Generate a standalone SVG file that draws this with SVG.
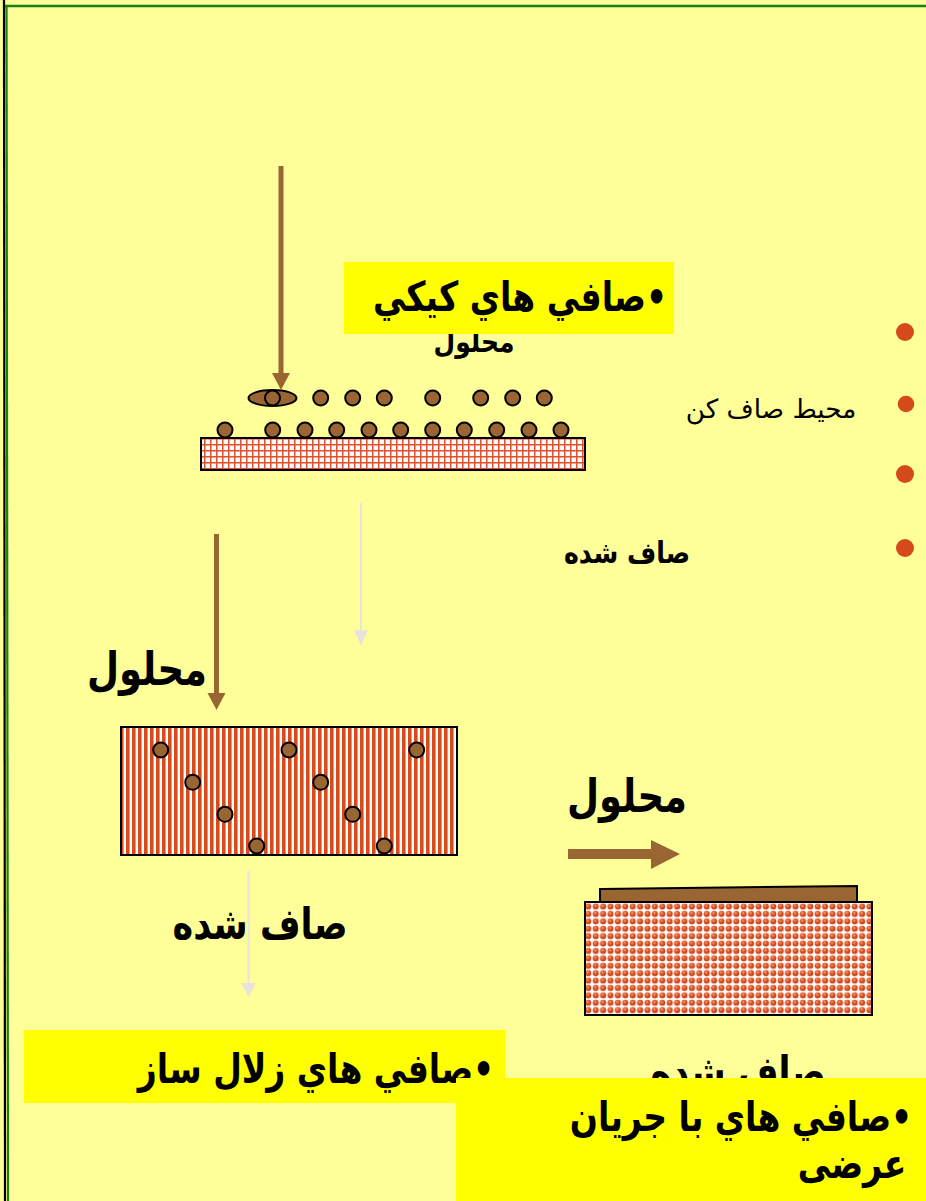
<svg xmlns="http://www.w3.org/2000/svg" width="926" height="1201" viewBox="0 0 926 1201">
  <style>
    .lbl { font-family: "DejaVu Sans", "Liberation Sans", sans-serif; font-weight: bold; fill: #000; direction: rtl; unicode-bidi: embed; text-anchor: middle; }
    .reg { font-family: "DejaVu Sans", "Liberation Sans", sans-serif; font-weight: normal; fill: #000; direction: rtl; unicode-bidi: embed; text-anchor: middle; }
    .p { fill: #996633; stroke: #000; stroke-width: 2; }
    .dot { fill: #D44A1A; }
    .hi { fill: #FFFF00; }
    .frame { stroke: #000; stroke-width: 2; }
  </style>
  <defs>
    <pattern id="grid" width="6" height="6" patternUnits="userSpaceOnUse">
      <rect width="6" height="6" fill="#fff"/>
      <path d="M0 0.75H6M0.75 0V6" stroke="#E0502A" stroke-width="1.5"/>
    </pattern>
    <pattern id="stripes" width="6" height="6" patternUnits="userSpaceOnUse">
      <rect width="6" height="6" fill="#fff"/>
      <rect width="3.6" height="6" fill="#D84B1B"/>
    </pattern>
    <radialGradient id="bead" cx="0.4" cy="0.35" r="0.7">
      <stop offset="0" stop-color="#F4A07A"/>
      <stop offset="0.45" stop-color="#DD5224"/>
      <stop offset="1" stop-color="#C23F12"/>
    </radialGradient>
    <pattern id="beads" width="7.4" height="7.4" patternUnits="userSpaceOnUse">
      <rect width="7.4" height="7.4" fill="#fff"/>
      <circle cx="3.7" cy="3.7" r="3.1" fill="url(#bead)"/>
    </pattern>
  </defs>

  <!-- page background and frame -->
  <rect width="926" height="1201" fill="#FFFF99"/>
  <line x1="4" y1="0" x2="5" y2="1201" stroke="#000" stroke-width="2.2"/>
  <line x1="6.5" y1="5" x2="8" y2="1201" stroke="#1A8010" stroke-width="2.2"/>
  <line x1="5" y1="6" x2="926" y2="6" stroke="#1A8010" stroke-width="2.5"/>

  <!-- right-hand bullets -->
  <g id="bullets">
    <circle class="dot" cx="905" cy="332" r="9"/>
    <circle class="dot" cx="906" cy="404" r="8.3"/>
    <circle class="dot" cx="905" cy="474" r="9"/>
    <circle class="dot" cx="905" cy="548" r="9"/>
  </g>
  <g id="label-medium">
    <text class="reg" transform="translate(771,418) scale(1.25,1.25)" font-size="21">محيط صاف كن</text>
  </g>

  <!-- cake filtration -->
  <g id="cake-solution-label">
    <text class="lbl" transform="translate(474,352) scale(1,1.2)" font-size="25">محلول</text>
  </g>
  <g id="cake-title">
    <rect class="hi" x="344" y="262" width="330" height="72"/>
    <text class="lbl" transform="translate(520,311) scale(1,1.25)" font-size="33">•صافي هاي كيكي</text>
  </g>
  <g id="cake-filter">
    <rect class="frame" x="201" y="438" width="384" height="32" fill="url(#grid)"/>
    <g id="cake-particles">
      <ellipse class="p" cx="272.5" cy="398" rx="24" ry="8"/>
      <circle class="p" cx="272.5" cy="398" r="7.5"/>
      <circle class="p" cx="320.7" cy="398" r="7.5"/>
      <circle class="p" cx="352.7" cy="398" r="7.5"/>
      <circle class="p" cx="384.3" cy="398" r="7.5"/>
      <circle class="p" cx="432.7" cy="398" r="7.5"/>
      <circle class="p" cx="480.7" cy="398" r="7.5"/>
      <circle class="p" cx="512.7" cy="398" r="7.5"/>
      <circle class="p" cx="544.3" cy="398" r="7.5"/>
      <circle class="p" cx="225" cy="430" r="7.5"/>
      <circle class="p" cx="272.7" cy="430" r="7.5"/>
      <circle class="p" cx="305" cy="430" r="7.5"/>
      <circle class="p" cx="336.7" cy="430" r="7.5"/>
      <circle class="p" cx="369" cy="430" r="7.5"/>
      <circle class="p" cx="400.7" cy="430" r="7.5"/>
      <circle class="p" cx="432.7" cy="430" r="7.5"/>
      <circle class="p" cx="464.3" cy="430" r="7.5"/>
      <circle class="p" cx="496.7" cy="430" r="7.5"/>
      <circle class="p" cx="529" cy="430" r="7.5"/>
      <circle class="p" cx="561" cy="430" r="7.5"/>
    </g>
  </g>
  <g id="cake-filtrate-label">
    <text class="lbl" transform="translate(627,563) scale(1.05,1.25)" font-size="24">صاف شده</text>
  </g>

  <!-- depth (clarifying) filtration -->
  <g id="depth-solution-label">
    <text class="lbl" transform="translate(147,685) scale(1,1.25)" font-size="37">محلول</text>
  </g>
  <g id="depth-filter">
    <rect class="frame" x="121" y="727" width="336" height="128" fill="url(#stripes)"/>
    <circle class="p" cx="160.7" cy="750" r="7.5"/>
    <circle class="p" cx="289" cy="750" r="7.5"/>
    <circle class="p" cx="416.7" cy="750" r="7.5"/>
    <circle class="p" cx="192.7" cy="782.3" r="7.5"/>
    <circle class="p" cx="320.7" cy="782.3" r="7.5"/>
    <circle class="p" cx="225" cy="814.3" r="7.5"/>
    <circle class="p" cx="352.7" cy="814.3" r="7.5"/>
    <circle class="p" cx="256.7" cy="846" r="7.5"/>
    <circle class="p" cx="384.3" cy="846" r="7.5"/>
  </g>

  <!-- cross-flow filtration -->
  <g id="cross-solution-label">
    <text class="lbl" transform="translate(627,812) scale(1,1.25)" font-size="37">محلول</text>
  </g>
  <g id="cross-filter">
    <polygon class="p" points="600,889 857,886 857,902 600,902"/>
    <rect class="frame" x="585" y="902" width="287" height="113" fill="url(#beads)"/>
  </g>

  <!-- connectors -->
  <g id="connectors">
    <g fill="#996633">
      <rect x="278.5" y="166" width="5" height="208"/>
      <polygon points="272,373 290,373 281,390"/>
      <rect x="214" y="534" width="5" height="160"/>
      <polygon points="207.5,693 225.5,693 216.5,710"/>
      <rect x="568" y="849" width="84" height="10"/>
      <polygon points="651,840 680,854 651,869"/>
    </g>
    <g fill="#E8E4DC">
      <rect x="360" y="503" width="2" height="128"/>
      <polygon points="354,630 368,630 361,646"/>
      <rect x="247.5" y="871" width="2" height="113"/>
      <polygon points="241,983 256,983 248.5,997"/>
    </g>
  </g>

  <g id="depth-filtrate-label">
    <text class="lbl" transform="translate(260,939) scale(1,1.25)" font-size="35">صاف شده</text>
  </g>
  <g id="cross-filtrate-label">
    <text class="lbl" transform="translate(738,1087) scale(1,1.25)" font-size="35">صاف شده</text>
  </g>

  <!-- section titles along the bottom -->
  <g id="depth-title">
    <rect class="hi" x="24" y="1030" width="481" height="73"/>
    <text class="lbl" transform="translate(316,1083) scale(1,1.25)" font-size="33">•صافي هاي زلال ساز</text>
  </g>
  <g id="cross-title">
    <rect class="hi" x="456" y="1078" width="470" height="123"/>
    <text class="lbl" transform="translate(741,1131) scale(1,1.25)" font-size="33">•صافي هاي با جريان</text>
    <text class="lbl" transform="translate(852,1178) scale(1,1.25)" font-size="33">عرضى</text>
  </g>
</svg>
